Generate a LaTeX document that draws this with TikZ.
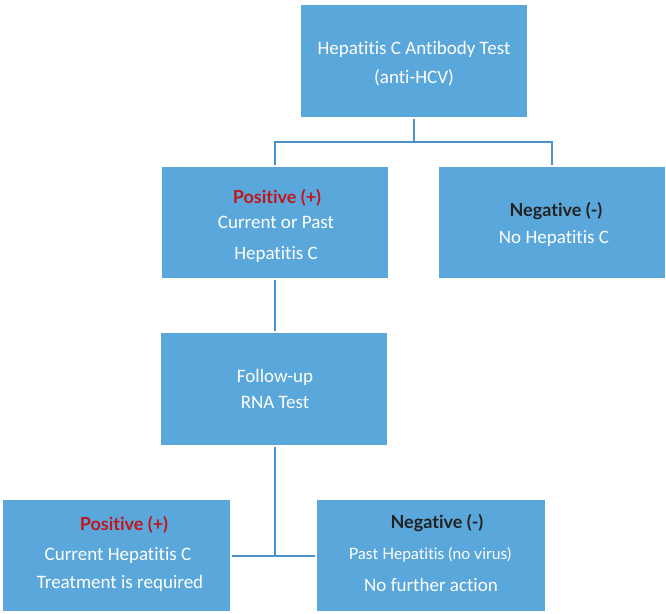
\documentclass[tikz,border=0pt]{standalone}
\usepackage{fontspec}
\setmainfont[RawFeature={-liga}]{Carlito}
\newfontfamily\headfont[RawFeature={-liga}]{Lato}
\definecolor{boxblue}{HTML}{5AA7DB}
\definecolor{linecol}{HTML}{4A92CA}
\definecolor{posred}{HTML}{C1161D}
\definecolor{negblack}{HTML}{222222}
\tikzset{
  box/.style={rectangle, fill=boxblue, draw=none, inner sep=0pt},
  conn/.style={draw=linecol, line width=2pt, shorten <=2pt, shorten >=2pt},
  lbl/.style={anchor=base, text=white, inner sep=0pt, font=\fontsize{19}{19}\selectfont},
  lbll/.style={anchor=base, text=white, inner sep=0pt, font=\headfont\fontsize{15.7}{15.7}\selectfont},
  head/.style={anchor=base, inner sep=0pt, font=\headfont\bfseries\fontsize{18}{18}\selectfont},
}
\begin{document}
\begin{tikzpicture}[x=1pt,y=-1pt]
\useasboundingbox (0,0) rectangle (666,613);
% boxes
\node[box, minimum width=226pt, minimum height=112pt] (top) at (414,61) {};
\node[box, minimum width=226pt, minimum height=111pt] (pos1) at (275,222.5) {};
\node[box, minimum width=226pt, minimum height=111pt] (neg1) at (552,222.5) {};
\node[box, minimum width=226pt, minimum height=112pt] (follow) at (274,389) {};
\node[box, minimum width=227pt, minimum height=111pt] (pos2) at (116.5,555.5) {};
\node[box, minimum width=228pt, minimum height=111pt] (neg2) at (431,555.5) {};
% connectors
\draw[conn, shorten >=0pt] (top.south) -- ++(0,25) coordinate (j1);
\draw[conn] (pos1.north) |- (j1) -| (neg1.north);
\draw[conn] (pos1.south) -- (pos1.south |- follow.north);
\draw[conn, shorten >=0pt] (pos1.south |- follow.south) -- (pos1.south |- pos2.east) coordinate (j2);
\draw[conn] (pos2.east) -- (neg2.west);
% texts
\node[lbl] (t1) at (414,54) {Hepatitis C Antibody Test};
\node[lbl] (t2) at (414,83) {(anti-HCV)};
\node[head, text=posred] (p1h) at (277,203) {Positive (+)};
\node[lbl] (p1a) at (276,228) {Current or Past};
\node[lbl] (p1b) at (276,259) {Hepatitis C};
\node[head, text=negblack] (n1h) at (556,216) {Negative (-)};
\node[lbl] (n1a) at (554,243) {No Hepatitis C};
\node[lbl] (f1) at (275,382) {Follow-up};
\node[lbl] (f2) at (275,408) {RNA Test};
\node[head, text=posred] (p2h) at (124,530) {Positive (+)};
\node[lbl] (p2a) at (118,560) {Current Hepatitis C};
\node[lbl] (p2b) at (120,588) {Treatment is required};
\node[head, text=negblack] (n2h) at (437,528) {Negative (-)};
\node[lbll] (n2a) at (430,559) {Past Hepatitis (no virus)};
\node[lbl] (n2b) at (431,591) {No further action};
\end{tikzpicture}
\end{document}
